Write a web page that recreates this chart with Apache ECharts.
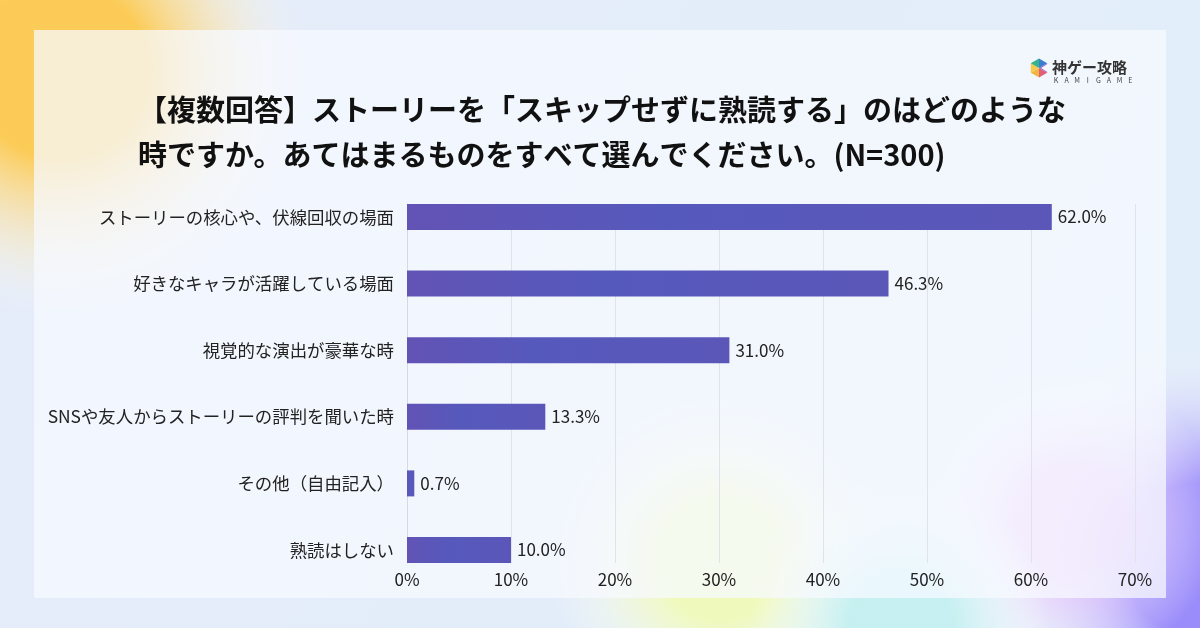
<!DOCTYPE html>
<html lang="ja">
<head>
<meta charset="UTF-8">
<title>ストーリーを熟読する時</title>
<script src="https://cdn.jsdelivr.net/npm/echarts@6/dist/echarts.min.js"></script>
<style>
  html, body { margin: 0; padding: 0; }
  #chart { width: 1200px; height: 628px; }
</style>
</head>
<body>
<div id="chart"></div>
<script>
var categories = [
  'ストーリーの核心や、伏線回収の場面',
  '好きなキャラが活躍している場面',
  '視覚的な演出が豪華な時',
  'SNSや友人からストーリーの評判を聞いた時',
  'その他（自由記入）',
  '熟読はしない'
];
var values = [62.0, 46.3, 31.0, 13.3, 0.7, 10.0];
var titleLines = [
  '【複数回答】ストーリーを「スキップせずに熟読する」のはどのような',
  '時ですか。あてはまるものをすべて選んでください。(N=300)'
];
var logoName = '神ゲー攻略';
var logoSub = 'KAMIGAME';

var font = '"Noto Sans CJK JP", "Noto Sans", sans-serif';
var chart = echarts.init(document.getElementById('chart'));

// 背景のぼかし
function blob(cx, cy, r, color, z) {
  return {
    type: 'circle', z: z || -10, silent: true,
    shape: { cx: cx, cy: cy, r: r },
    style: {
      fill: {
        type: 'radial', x: 0.5, y: 0.5, r: 0.5,
        colorStops: [{ offset: 0, color: color }, { offset: 0.35, color: color }, { offset: 1, color: 'rgba(255,255,255,0)' }]
      }
    }
  };
}

var graphics = [
  { type: 'rect', z: -11, silent: true, shape: { x: 0, y: 0, width: 1200, height: 628 },
    style: { fill: { type: 'linear', x: 0, y: 0, x2: 1, y2: 1,
      colorStops: [{ offset: 0, color: '#e5ecf9' }, { offset: 1, color: '#e1eef9' }] } } },
  blob(60, 70, 250, 'rgba(255,200,70,0.9)'),
  blob(1200, 560, 220, 'rgba(150,135,250,0.95)'),
  blob(1070, 520, 150, 'rgba(235,195,250,0.8)'),
  blob(720, 560, 170, 'rgba(240,250,185,0.95)'),
  blob(900, 625, 150, 'rgba(195,240,240,0.9)'),
  { type: 'rect', z: -9, silent: true, shape: { x: 34, y: 30, width: 1132, height: 568 },
    style: { fill: 'rgba(247,249,255,0.74)' } }
];

// ロゴ
var cx = 1039, cy = 68, R = 9.5;
var logoColors = ['#3b7fd0', '#8a63c9', '#e0607a', '#f0b640', '#f4c94e', '#35b38a'];
for (var i = 0; i < 6; i++) {
  var a1 = (-90 + i * 60) * Math.PI / 180;
  var a2 = (-30 + i * 60) * Math.PI / 180;
  graphics.push({
    type: 'polygon', z: 10, silent: true,
    shape: { points: [[cx, cy], [cx + R * Math.cos(a1), cy + R * Math.sin(a1)], [cx + R * Math.cos(a2), cy + R * Math.sin(a2)]] },
    style: { fill: logoColors[i] }
  });
}
graphics.push({
  type: 'polygon', z: 11, silent: true,
  shape: { points: [[cx + 10, cy - 5], [cx + 2, cy], [cx + 10, cy + 5]] },
  style: { fill: 'rgba(247,249,255,1)' }
});
graphics.push({
  type: 'text', z: 10, silent: true, x: 1052, y: 67,
  style: { text: logoName, font: 'bold 15px ' + font, fill: '#333', textVerticalAlign: 'middle' }
});
for (var j = 0; j < logoSub.length; j++) {
  graphics.push({
    type: 'text', z: 10, silent: true, x: 1056 + j * 10.6, y: 80,
    style: { text: logoSub[j], font: '7px ' + font, fill: '#444', textAlign: 'center', textVerticalAlign: 'middle' }
  });
}

var option = {
  backgroundColor: '#e4edf9',
  animation: false,
  textStyle: { fontFamily: font },
  graphic: graphics,
  title: {
    text: titleLines.join('\n'),
    left: 133,
    top: 82,
    textStyle: { fontSize: 29, fontWeight: 'bold', color: '#111', lineHeight: 45, fontFamily: font }
  },
  grid: [
    { left: 407, right: 65, top: 217, bottom: 78, containLabel: false },
    { left: 407, right: 65, top: 204, bottom: 65, containLabel: false }
  ],
  xAxis: [
    { gridIndex: 0, type: 'value', min: 0, max: 70, show: false },
    {
      gridIndex: 1, type: 'value', min: 0, max: 70, interval: 10,
      axisLine: { show: false }, axisTick: { show: false },
      axisLabel: { formatter: '{value}%', fontSize: 17, color: '#222', margin: 8 },
      splitLine: { lineStyle: { color: '#e1e2ea', width: 1 } }
    }
  ],
  yAxis: [
    {
      gridIndex: 0, type: 'category', data: categories, inverse: true, boundaryGap: false,
      axisLine: { show: false }, axisTick: { show: false },
      axisLabel: { fontSize: 17.4, color: '#222', margin: 13 }
    },
    {
      gridIndex: 1, type: 'category', data: [''],
      axisLine: { lineStyle: { color: '#d6d8e4' } }, axisTick: { show: false },
      axisLabel: { show: false }
    }
  ],
  series: [{
    type: 'bar',
    xAxisIndex: 0, yAxisIndex: 0,
    data: values,
    barWidth: 26,
    itemStyle: {
      color: {
        type: 'linear', x: 0, y: 0, x2: 1, y2: 0,
        colorStops: [
          { offset: 0, color: '#6253b5' },
          { offset: 0.4, color: '#5659bc' },
          { offset: 1, color: '#5b57b9' }
        ]
      }
    },
    label: {
      show: true, position: 'right', distance: 6,
      fontSize: 17, color: '#222',
      formatter: function (p) { return p.value.toFixed(1) + '%'; }
    }
  }]
};

chart.setOption(option);
</script>
</body>
</html>
